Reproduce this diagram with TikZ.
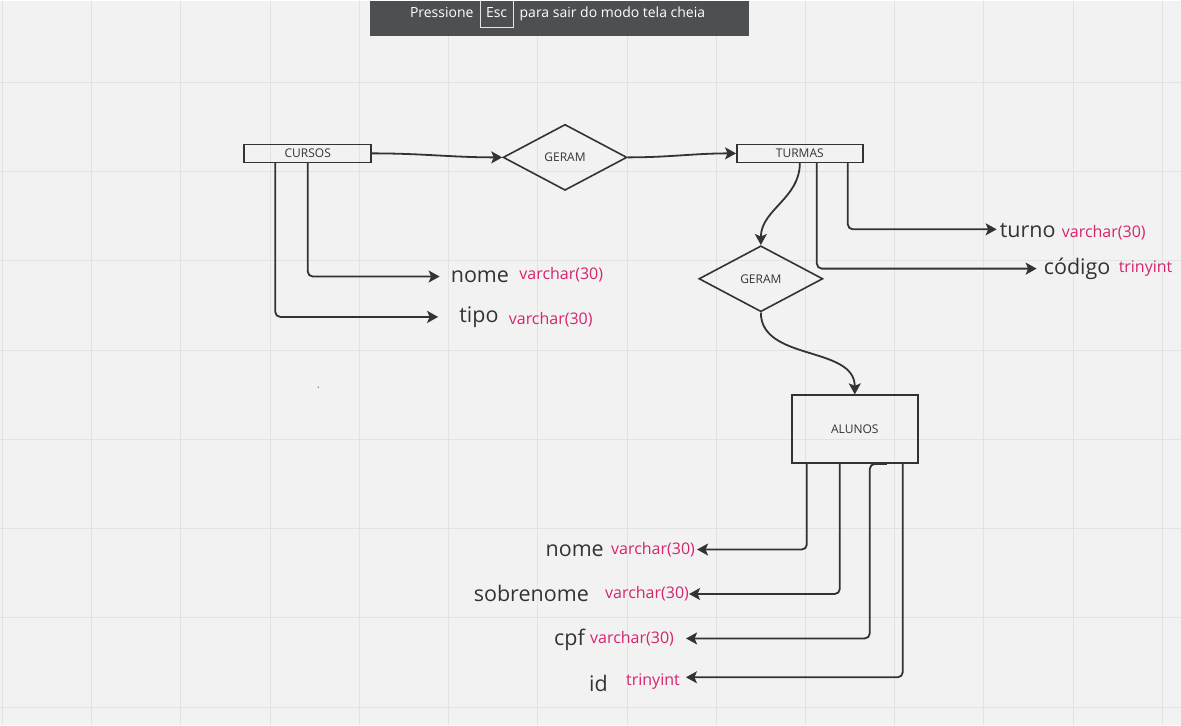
\documentclass[tikz,border=0pt]{standalone}
\usepackage{fontspec}
\setmainfont{Open Sans}
\usetikzlibrary{shapes.geometric, arrows.meta, positioning}
\usepackage{xcolor}
\definecolor{canvas}{HTML}{F2F2F2}
\definecolor{gridgray}{HTML}{E2E2E2}
\definecolor{ink}{HTML}{333333}
\definecolor{bar}{HTML}{4D4F52}
\definecolor{tipocor}{HTML}{D6246E}

\begin{document}
\begin{tikzpicture}[x=1pt,y=-1pt,
		entidade/.style={rectangle,draw=ink,line width=1.6pt,inner sep=0pt,text=ink,font=\fontsize{12}{14}\selectfont},
		relacao/.style={diamond,draw=ink,line width=1.6pt,inner sep=0pt,minimum width=124pt,minimum height=66pt,text=ink,font=\fontsize{12}{14}\selectfont},
		campo/.style={inner sep=0pt,text=ink,font=\fontsize{21.5}{24}\selectfont},
		tipo/.style={inner sep=0pt,text=tipocor,font=\fontsize{16}{19}\selectfont},
		aviso/.style={inner sep=0pt,text=white,font=\fontsize{14}{16}\selectfont},
		liga/.style={draw=ink,line width=1.8pt,rounded corners=5pt,-{Stealth[length=11pt,width=12pt,inset=2.5pt]}}]
			\fill [canvas] (0,0) rectangle (1181,725);
			\foreach \gx in {0,...,13} \draw [gridgray,line width=1pt] ({2+89.3*\gx},0) -- ({2+89.3*\gx},725);
			\foreach \gy in {0,...,7} \draw [gridgray,line width=1pt] (0,{82+89.3*\gy}) -- (1181,{82+89.3*\gy});
			\useasboundingbox (0,0) rectangle (1181,725);
			\fill [bar] (370,0) rectangle (749,36);
			\node (esc) [aviso,draw=white!85!bar,line width=0.8pt,minimum width=33pt,minimum height=29pt] at (496.5,12.5) {Esc};
			\node (pressione) [aviso,base left=6pt of esc] {Pressione};
			\node (sair) [aviso,base right=6pt of esc] {para sair do modo tela cheia};
			\fill [ink!70] (318,387) circle (0.8);
			\node (cursos) [entidade,minimum width=127pt,minimum height=18pt] at (307.5,153) {CURSOS};
			\node (turmas) [entidade,minimum width=126pt,minimum height=18pt] at (800,153) {TURMAS};
			\node (alunos) [entidade,minimum width=126pt,minimum height=68pt] at (855,429) {ALUNOS};
			\node (geram1) [relacao] at (565,157) {GERAM};
			\node (geram2) [relacao] at (761,278.5) {GERAM};
			\node (nomeC) [campo,anchor=base west] at (450.5,282) {nome};
			\node (nomeCt) [tipo,base right=10pt of nomeC,yshift=3pt] {varchar(30)};
			\node (tipoC) [campo,anchor=base west] at (459,322) {tipo};
			\node (tipoCt) [tipo,base right=10pt of tipoC,yshift=-2pt] {varchar(30)};
			\node (turno) [campo,anchor=base west] at (1000,237.5) {turno};
			\node (turnot) [tipo,base right=6pt of turno] {varchar(30)};
			\node (codigo) [campo,anchor=base west] at (1044,274) {código};
			\node (codigot) [tipo,base right=8pt of codigo,yshift=1.5pt] {trinyint};
			\node (nomeAt) [tipo,anchor=base west] at (611,554.3) {varchar(30)};
			\node (nomeA) [campo,base left=7pt of nomeAt,yshift=-2pt] {nome};
			\node (sobrenomeAt) [tipo,anchor=base west] at (605,598.8) {varchar(30)};
			\node (sobrenome) [campo,base left=16pt of sobrenomeAt,yshift=-2.5pt] {sobrenome};
			\node (cpfAt) [tipo,anchor=base west] at (590,643.3) {varchar(30)};
			\node (cpf) [campo,base left=5pt of cpfAt,yshift=-2pt] {cpf};
			\node (idAt) [tipo,anchor=base west] at (626,685.3) {trinyint};
			\node (id) [campo,base left=18pt of idAt,yshift=-6pt] {id};
			\draw [liga] (cursos.east) to[out=0,in=180] (geram1.west);
			\draw [liga] (geram1.east) to[out=0,in=180] (turmas.west);
			\draw [liga] (turmas.south) to[out=-90,in=90] (geram2.north);
			\draw [liga] (geram2.south) to[out=-90,in=90] (alunos.north);
			\draw [liga,shorten >=11pt] (cursos.south) |- (nomeC.west);
			\draw [liga,shorten >=21pt] ([xshift=-32.5pt]cursos.south) |- (tipoC.west);
			\draw [liga,shorten >=3pt] ([xshift=48pt]turmas.south) |- ([yshift=1.5pt]turno.west);
			\draw [liga,shorten >=7pt] ([xshift=17pt]turmas.south) |- (codigo.west);
			\draw [liga,shorten >=2pt] ([xshift=-48pt]alunos.south) |- (nomeAt.east);
			\draw [liga] ([xshift=-15pt]alunos.south) |- (sobrenomeAt.east);
			\draw [liga,shorten >=12pt] ([xshift=32pt]alunos.south) -- ([xshift=15pt]alunos.south) |- (cpfAt.east);
			\draw [liga,shorten >=6pt] ([xshift=48pt]alunos.south) |- ([yshift=4pt]idAt.east);
\end{tikzpicture}
\end{document}
